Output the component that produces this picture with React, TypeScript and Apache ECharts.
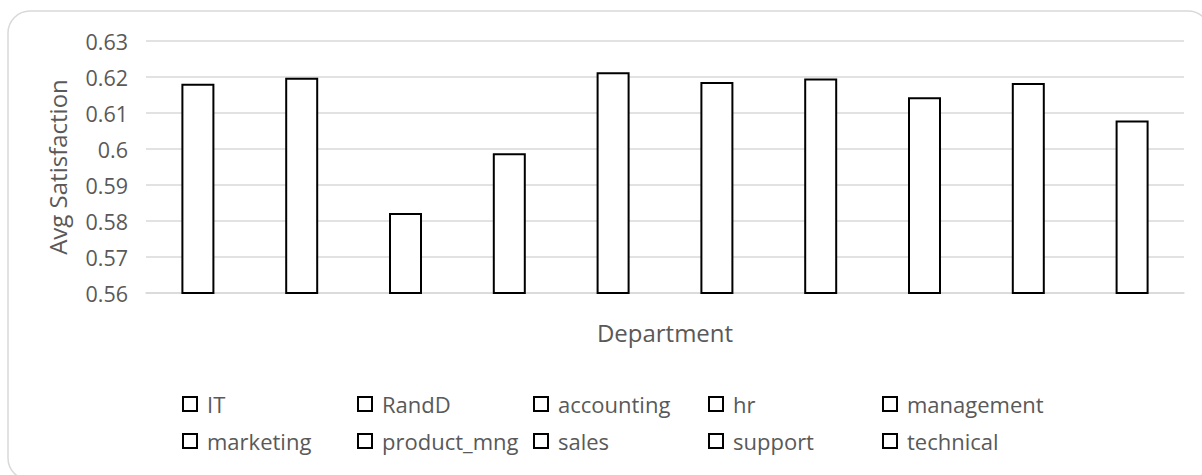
import React, { useEffect, useRef } from "react";
import * as echarts from "echarts";

// Departments and their average satisfaction level
const departments = [
  "IT",
  "RandD",
  "accounting",
  "hr",
  "management",
  "marketing",
  "product_mng",
  "sales",
  "support",
  "technical",
];
const avgSatisfaction = [
  0.6181, 0.6198, 0.5822, 0.5988, 0.6213, 0.6186, 0.6196, 0.6144, 0.6183, 0.6079,
];

// Value axis range
const yMin = 0.56;
const yMax = 0.63;
const yStep = 0.01;

const FONT = "'Open Sans', 'Noto Sans', sans-serif";
const TEXT_COLOR = "#595959";
const GRID_COLOR = "#d9d9d9";

// Legend grid: five columns, two rows
const legendColumnsX = [182, 357, 533, 708, 882];
const legendRowsY = [392, 429];

export default function App() {
  const ref = useRef<HTMLDivElement>(null);

  useEffect(() => {
    if (!ref.current) return;
    const chart = echarts.init(ref.current, null, { renderer: "svg" });

    // One series per department so each gets its own legend entry;
    // the bars overlap in a single slot per category.
    const series = departments.map((name, i) => ({
      name,
      type: "bar",
      barWidth: 33,
      barGap: "-100%",
      data: departments.map((_, j) => (j === i ? avgSatisfaction[i] : null)),
      itemStyle: {
        color: "#ffffff",
        borderColor: "#000000",
        borderWidth: 2,
      },
    }));

    const legends = departments.map((name, i) => ({
      data: [name],
      left: legendColumnsX[i % 5],
      top: legendRowsY[Math.floor(i / 5)],
      padding: 0,
      icon: "rect",
      itemWidth: 14,
      itemHeight: 14,
      selectedMode: false,
      itemStyle: {
        color: "#ffffff",
        borderColor: "#000000",
        borderWidth: 2,
      },
      textStyle: {
        color: TEXT_COLOR,
        fontFamily: FONT,
        fontSize: 22,
        lineHeight: 24,
        padding: [0, 0, 0, 5],
      },
    }));

    chart.setOption({
      animation: false,
      backgroundColor: "#ffffff",
      graphic: [
        {
          type: "rect",
          z: -10,
          shape: { x: 8, y: 11, width: 1202, height: 469, r: 22 },
          style: { fill: "#ffffff", stroke: GRID_COLOR, lineWidth: 1.5 },
        },
      ],
      grid: { left: 146, right: 18, top: 41, bottom: 182 },
      legend: legends,
      xAxis: {
        type: "category",
        data: departments,
        name: "Department",
        nameLocation: "middle",
        nameGap: 27,
        nameTextStyle: { color: TEXT_COLOR, fontFamily: FONT, fontSize: 24 },
        axisLine: { show: true, lineStyle: { color: GRID_COLOR, width: 1.5 } },
        axisTick: { show: false },
        axisLabel: { show: false },
      },
      yAxis: {
        type: "value",
        min: yMin,
        max: yMax,
        interval: yStep,
        name: "Avg Satisfaction",
        nameLocation: "middle",
        nameGap: 77,
        nameTextStyle: { color: TEXT_COLOR, fontFamily: FONT, fontSize: 24 },
        axisLine: { show: false },
        axisTick: { show: false },
        axisLabel: {
          color: TEXT_COLOR,
          fontFamily: FONT,
          fontSize: 21.5,
          margin: 18,
          formatter: (v: number) => String(+v.toFixed(2)),
        },
        splitLine: { lineStyle: { color: GRID_COLOR, width: 1.5 } },
      },
      series,
    });

    return () => chart.dispose();
  }, []);

  return (
    <div
      ref={ref}
      style={{ position: "fixed", left: 0, top: 0, width: 1202, height: 475 }}
    />
  );
}
